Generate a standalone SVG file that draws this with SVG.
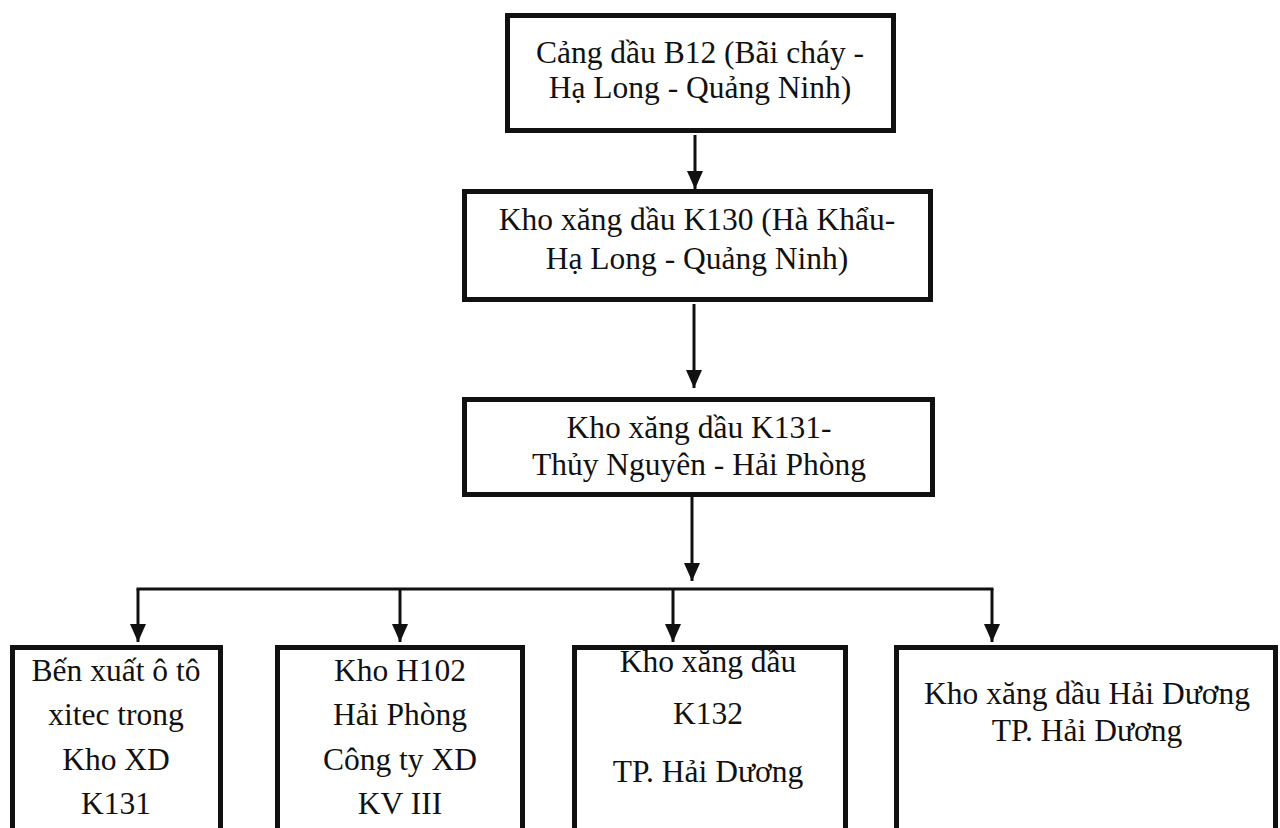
<svg xmlns="http://www.w3.org/2000/svg" width="1280" height="828" viewBox="0 0 1280 828">
<defs>
<style>
.box{fill:#fff;stroke:#111;stroke-width:5}
.c{stroke:#111;stroke-width:3;fill:none}
</style>
<marker id="ah" markerUnits="userSpaceOnUse" markerWidth="18" markerHeight="16" refX="18" refY="8" orient="auto">
<path d="M0,0 L18,8 L0,16 z" fill="#111"/>
</marker>
</defs>
<rect width="1280" height="828" fill="#fff"/>
<g id="connectors">
<line class="c" x1="695" y1="135" x2="695" y2="189" marker-end="url(#ah)"/>
<line class="c" x1="694" y1="304" x2="694" y2="388" marker-end="url(#ah)"/>
<line class="c" x1="692" y1="497" x2="692" y2="581" marker-end="url(#ah)"/>
<line class="c" x1="136.5" y1="589" x2="993.5" y2="589"/>
<line class="c" x1="138" y1="589" x2="138" y2="642" marker-end="url(#ah)"/>
<line class="c" x1="400" y1="589" x2="400" y2="642" marker-end="url(#ah)"/>
<line class="c" x1="673" y1="589" x2="673" y2="642" marker-end="url(#ah)"/>
<line class="c" x1="992" y1="589" x2="992" y2="642" marker-end="url(#ah)"/>
</g>
<g font-family="Liberation Serif, Tinos, DejaVu Serif, serif" font-size="31.5" fill="#111" text-anchor="middle">
<g id="n_b12">
<rect class="box" x="507.5" y="15.5" width="386" height="115"/>
<text x="700" y="63">Cảng dầu B12 (Bãi cháy -</text>
<text x="700" y="98">Hạ Long - Quảng Ninh)</text>
</g>
<g id="n_k130">
<rect class="box" x="464.5" y="191.5" width="466" height="108"/>
<text x="697" y="230">Kho xăng dầu K130 (Hà Khẩu-</text>
<text x="697" y="269">Hạ Long - Quảng Ninh)</text>
</g>
<g id="n_k131">
<rect class="box" x="464.5" y="399.5" width="468" height="95"/>
<text x="699" y="438">Kho xăng dầu K131-</text>
<text x="699" y="475">Thủy Nguyên - Hải Phòng</text>
</g>
<g id="n_ben">
<rect class="box" x="12.5" y="647.5" width="208" height="200"/>
<text x="116" y="681">Bến xuất ô tô</text>
<text x="116" y="725">xitec trong</text>
<text x="116" y="770">Kho XD</text>
<text x="116" y="814">K131</text>
</g>
<g id="n_h102">
<rect class="box" x="277.5" y="647.5" width="245" height="200"/>
<text x="400" y="681">Kho H102</text>
<text x="400" y="725">Hải Phòng</text>
<text x="400" y="770">Công ty XD</text>
<text x="400" y="814">KV III</text>
</g>
<g id="n_k132">
<rect class="box" x="574.5" y="647.5" width="271" height="200"/>
<text x="708" y="672">Kho xăng dầu</text>
<text x="708" y="724">K132</text>
<text x="708" y="782">TP. Hải Dương</text>
</g>
<g id="n_hd">
<rect class="box" x="896.5" y="647.5" width="379" height="200"/>
<text x="1087" y="704">Kho xăng dầu Hải Dương</text>
<text x="1087" y="741">TP. Hải Dương</text>
</g>
</g>
</svg>
